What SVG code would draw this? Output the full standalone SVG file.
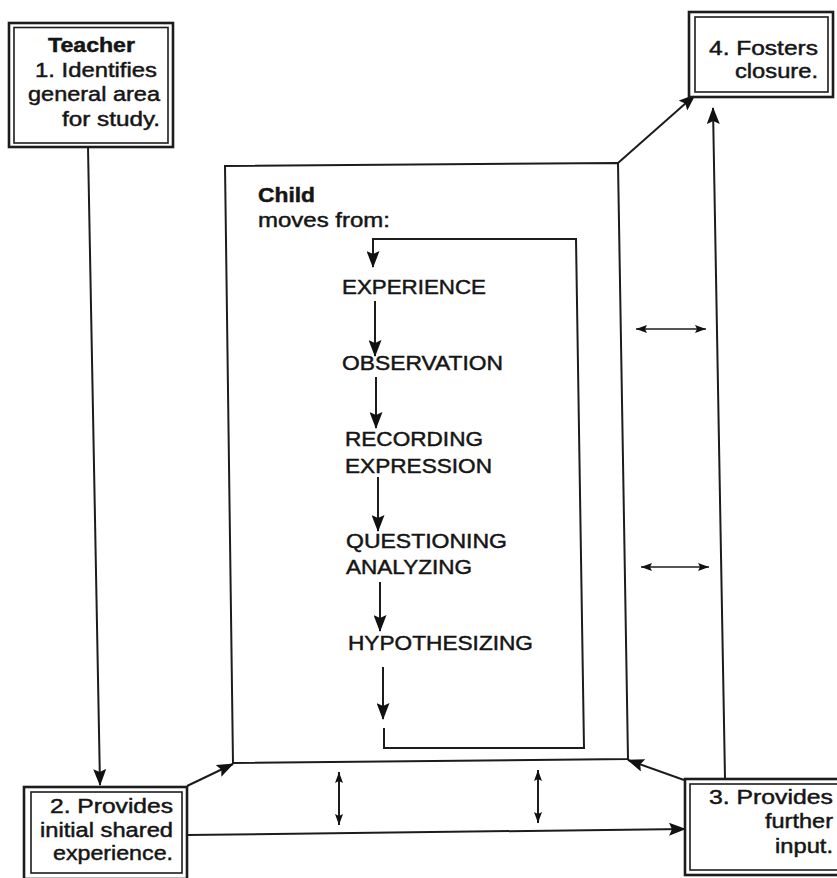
<svg xmlns="http://www.w3.org/2000/svg" width="837" height="878" viewBox="0 0 837 878">
<defs>
<style>
.t{font-family:"Liberation Sans",Arial,sans-serif;font-size:19.5px;fill:#151515;stroke:#151515;stroke-width:0.45}
.b{font-weight:bold}
.ln{fill:none;stroke:#1c1c1c;stroke-width:2}
.thin{fill:none;stroke:#1c1c1c;stroke-width:1.4}
.outer{fill:#fff;stroke:#1c1c1c;stroke-width:2.6}
.inner{fill:none;stroke:#1c1c1c;stroke-width:1.6}
</style>
<marker id="ah" markerUnits="userSpaceOnUse" markerWidth="17" markerHeight="13" refX="16" refY="6.5" orient="auto-start-reverse" viewBox="0 0 17 13">
<path d="M0,0 L17,6.5 L0,13 L3,6.5 z" fill="#111"/>
</marker>
<marker id="ahs" markerUnits="userSpaceOnUse" markerWidth="11" markerHeight="8" refX="11" refY="4" orient="auto-start-reverse" viewBox="0 0 11 8">
<path d="M0,0 L11,4 L0,8 L2,4 z" fill="#111"/>
</marker>
</defs>
<rect width="837" height="878" fill="#fff"/>

<g id="connectors">
<path class="ln" d="M88,147 L100,785" marker-end="url(#ah)"/>
<path class="ln" d="M187,786 L233,764" marker-end="url(#ah)"/>
<path class="ln" d="M187,835 L685,829" marker-end="url(#ah)"/>
<path class="ln" d="M684,780 L628,760" marker-end="url(#ah)"/>
<path class="ln" d="M618,163 L695,95" marker-end="url(#ah)"/>
<path class="ln" d="M725,779 L713,108" marker-end="url(#ah)"/>
<path class="thin" d="M636,329 L706,329" marker-start="url(#ahs)" marker-end="url(#ahs)"/>
<path class="thin" d="M641,567 L709,567" marker-start="url(#ahs)" marker-end="url(#ahs)"/>
<path class="ln" d="M339,772 L339,825" marker-start="url(#ahs)" marker-end="url(#ahs)"/>
<path class="ln" d="M538,770 L538,823" marker-start="url(#ahs)" marker-end="url(#ahs)"/>
<path class="ln" d="M375,301 L375,356" marker-end="url(#ah)"/>
<path class="ln" d="M376,377 L376,428" marker-end="url(#ah)"/>
<path class="ln" d="M378,477 L378,531" marker-end="url(#ah)"/>
<path class="ln" d="M380,582 L380,631" marker-end="url(#ah)"/>
<path class="ln" d="M383,667 L383,719" marker-end="url(#ah)"/>
<path class="ln" d="M384,728 L384,748 L584,748 L576,239 L373,239 L373,267" marker-end="url(#ah)"/>
</g>

<g id="teacher">
<rect class="outer" x="9" y="23" width="164" height="124"/>
<rect class="inner" x="14" y="27.5" width="154" height="115.5"/>
<text class="t b" x="48" y="52" textLength="87" lengthAdjust="spacingAndGlyphs">Teacher</text>
<text class="t" x="35" y="77" textLength="122" lengthAdjust="spacingAndGlyphs">1.  Identifies</text>
<text class="t" x="28" y="101" textLength="132" lengthAdjust="spacingAndGlyphs">general area</text>
<text class="t" x="62" y="126" textLength="98" lengthAdjust="spacingAndGlyphs">for study.</text>
</g>

<g id="fosters">
<rect class="outer" x="689" y="12" width="144" height="85"/>
<rect class="inner" x="695" y="17" width="133" height="75"/>
<text class="t" x="709" y="55" textLength="109" lengthAdjust="spacingAndGlyphs">4.  Fosters</text>
<text class="t" x="735" y="78" textLength="83" lengthAdjust="spacingAndGlyphs">closure.</text>
</g>

<g id="provides-initial">
<rect class="outer" x="24" y="787" width="163" height="92"/>
<rect class="inner" x="31" y="792" width="151" height="81"/>
<text class="t" x="50" y="813" textLength="123" lengthAdjust="spacingAndGlyphs">2.  Provides</text>
<text class="t" x="40" y="837" textLength="133" lengthAdjust="spacingAndGlyphs">initial shared</text>
<text class="t" x="53" y="860" textLength="120" lengthAdjust="spacingAndGlyphs">experience.</text>
</g>

<g id="provides-further">
<rect class="outer" x="685" y="779" width="160" height="96"/>
<rect class="inner" x="690" y="784" width="150" height="86"/>
<text class="t" x="709" y="804" textLength="124" lengthAdjust="spacingAndGlyphs">3.  Provides</text>
<text class="t" x="765" y="828" textLength="68" lengthAdjust="spacingAndGlyphs">further</text>
<text class="t" x="775" y="853" textLength="58" lengthAdjust="spacingAndGlyphs">input.</text>
</g>

<g id="child">
<path class="ln" d="M225,166 L618,163 L628,759 L233,763 Z"/>
<text class="t b" x="258" y="202" textLength="57" lengthAdjust="spacingAndGlyphs">Child</text>
<text class="t" x="258" y="227" textLength="132" lengthAdjust="spacingAndGlyphs">moves from:</text>
</g>

<g id="experience">
<text class="t" x="342" y="294" textLength="144" lengthAdjust="spacingAndGlyphs">EXPERIENCE</text>
</g>
<g id="observation">
<text class="t" x="342" y="370" textLength="161" lengthAdjust="spacingAndGlyphs">OBSERVATION</text>
</g>
<g id="recording-expression">
<text class="t" x="345" y="446" textLength="138" lengthAdjust="spacingAndGlyphs">RECORDING</text>
<text class="t" x="345" y="473" textLength="147" lengthAdjust="spacingAndGlyphs">EXPRESSION</text>
</g>
<g id="questioning-analyzing">
<text class="t" x="346" y="548" textLength="161" lengthAdjust="spacingAndGlyphs">QUESTIONING</text>
<text class="t" x="346" y="574" textLength="126" lengthAdjust="spacingAndGlyphs">ANALYZING</text>
</g>
<g id="hypothesizing">
<text class="t" x="348" y="650" textLength="185" lengthAdjust="spacingAndGlyphs">HYPOTHESIZING</text>
</g>
</svg>
